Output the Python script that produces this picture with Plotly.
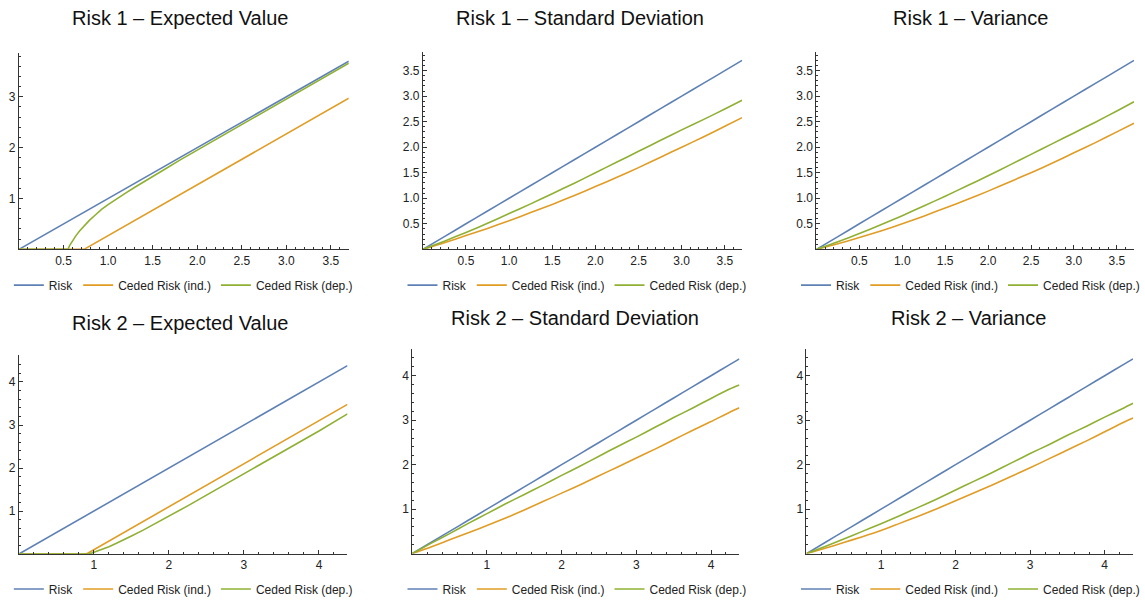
import plotly.graph_objects as go

W, H = 1145, 604

names = ["Risk", "Ceded Risk (ind.)", "Ceded Risk (dep.)"]
colors = ["#5E81B5", "#E19C24", "#8FB032"]

titles = ["Risk 1 \u2013 Expected Value", "Risk 1 \u2013 Standard Deviation", "Risk 1 \u2013 Variance",
          "Risk 2 \u2013 Expected Value", "Risk 2 \u2013 Standard Deviation", "Risk 2 \u2013 Variance"]

# ---- Risk 1 data ----
r1_x = [0, 0.25, 0.5, 0.75, 1.0, 1.25, 1.5, 1.75, 2.0, 2.25, 2.5, 2.75, 3.0, 3.25, 3.5, 3.7]
r1_risk = [0, 0.25, 0.5, 0.75, 1.0, 1.25, 1.5, 1.75, 2.0, 2.25, 2.5, 2.75, 3.0, 3.25, 3.5, 3.7]

r1_ev_ind_x = [0, 0.73, 3.7]
r1_ev_ind_y = [0, 0, 2.97]
r1_ev_dep_x = [0, 0.55, 0.57, 0.60, 0.64, 0.68, 0.73, 0.79, 0.86, 0.93, 1.0, 1.1, 1.2, 1.3, 1.4, 1.5, 1.65,
               1.8, 2.0, 2.3, 2.6, 3.0, 3.4, 3.7]
r1_ev_dep_y = [0, 0, 0.08, 0.17, 0.27, 0.36, 0.46, 0.57, 0.68, 0.79, 0.88, 1.00, 1.11, 1.22, 1.33, 1.43, 1.59,
               1.75, 1.95, 2.25, 2.55, 2.95, 3.36, 3.66]

r1_sd_ind = [0, 0.13, 0.27, 0.41, 0.56, 0.72, 0.88, 1.05, 1.23, 1.41, 1.60, 1.80, 2.00, 2.20, 2.41, 2.58]
r1_sd_dep = [0, 0.16, 0.33, 0.51, 0.70, 0.89, 1.09, 1.29, 1.50, 1.71, 1.92, 2.13, 2.34, 2.54, 2.75, 2.92]

r1_var_ind = [0, 0.11, 0.23, 0.36, 0.50, 0.65, 0.81, 0.97, 1.14, 1.32, 1.50, 1.69, 1.89, 2.09, 2.30, 2.47]
r1_var_dep = [0, 0.15, 0.31, 0.48, 0.66, 0.85, 1.04, 1.24, 1.44, 1.65, 1.86, 2.07, 2.28, 2.49, 2.71, 2.89]

# ---- Risk 2 data ----
r2_x = [0, 0.25, 0.5, 0.75, 1.0, 1.25, 1.5, 1.75, 2.0, 2.25, 2.5, 2.75, 3.0, 3.25, 3.5, 3.75, 4.0, 4.25, 4.38]
r2_risk = [0, 0.25, 0.5, 0.75, 1.0, 1.25, 1.5, 1.75, 2.0, 2.25, 2.5, 2.75, 3.0, 3.25, 3.5, 3.75, 4.0, 4.25, 4.38]

r2_ev_ind_x = [0, 0.9, 4.38]
r2_ev_ind_y = [0, 0, 3.48]
r2_ev_dep_x = [0, 0.93, 1.0, 1.1, 1.2, 1.3, 1.4, 1.5, 1.65, 1.8, 2.0, 2.25, 2.5, 3.0, 3.5, 4.0, 4.38]
r2_ev_dep_y = [0, 0, 0.04, 0.10, 0.17, 0.25, 0.33, 0.42, 0.55, 0.69, 0.88, 1.12, 1.37, 1.86, 2.36, 2.86, 3.26]

r2_sd_ind = [0, 0.15, 0.31, 0.47, 0.63, 0.80, 0.98, 1.17, 1.36, 1.55, 1.75, 1.95, 2.15, 2.35, 2.56, 2.77, 2.97, 3.18, 3.28]
r2_sd_dep = [0, 0.23, 0.45, 0.68, 0.90, 1.12, 1.33, 1.54, 1.76, 1.97, 2.19, 2.41, 2.62, 2.84, 3.06, 3.27, 3.49, 3.70, 3.79]

r2_var_ind = [0, 0.12, 0.25, 0.38, 0.52, 0.68, 0.84, 1.01, 1.19, 1.37, 1.55, 1.74, 1.93, 2.13, 2.33, 2.53, 2.74, 2.95, 3.05]
r2_var_dep = [0, 0.16, 0.33, 0.50, 0.67, 0.85, 1.04, 1.23, 1.43, 1.63, 1.83, 2.04, 2.25, 2.45, 2.66, 2.86, 3.07, 3.27, 3.38]

panels = [
    [(r1_x, r1_risk), (r1_ev_ind_x, r1_ev_ind_y), (r1_ev_dep_x, r1_ev_dep_y)],
    [(r1_x, r1_risk), (r1_x, r1_sd_ind), (r1_x, r1_sd_dep)],
    [(r1_x, r1_risk), (r1_x, r1_var_ind), (r1_x, r1_var_dep)],
    [(r2_x, r2_risk), (r2_ev_ind_x, r2_ev_ind_y), (r2_ev_dep_x, r2_ev_dep_y)],
    [(r2_x, r2_risk), (r2_x, r2_sd_ind), (r2_x, r2_sd_dep)],
    [(r2_x, r2_risk), (r2_x, r2_var_ind), (r2_x, r2_var_dep)],
]
smooth_panel = [False, True, True, False, True, True]

px_dom = [
    (19, 350, 251, 53.4),
    (424.3, 744.7, 251, 52.6),
    (819.3, 1138, 251, 52.6),
    (19, 348.7, 557.7, 357.7),
    (413.7, 742, 557.3, 351.4),
    (809.3, 1137, 557.3, 351.4),
]
yranges = [3.86, 3.86, 3.86, 4.62, 4.6, 4.6]
xranges = [3.7, 3.7, 3.7, 4.38, 4.38, 4.38]
xticks = [[0.5, 1.0, 1.5, 2.0, 2.5, 3.0, 3.5]] * 3 + [[1, 2, 3, 4]] * 3
yticks = [[1, 2, 3], [0.5, 1.0, 1.5, 2.0, 2.5, 3.0, 3.5], [0.5, 1.0, 1.5, 2.0, 2.5, 3.0, 3.5],
          [1, 2, 3, 4], [1, 2, 3, 4], [1, 2, 3, 4]]
xminor = [0.1, 0.1, 0.1, 0.2, 0.2, 0.2]
yminor = [0.2, 0.1, 0.1, 0.2, 0.2, 0.2]
title_pos = [(181, 18), (582, 18), (974, 18), (181, 325), (577, 320), (972, 320)]
legend_pos = [(184, 287), (579, 287), (974, 287), (184, 593), (579, 593), (974, 593)]

FONT = "Liberation Sans, Arial, sans-serif"
AX = "#333333"

fig = go.Figure()
layout = dict(
    width=W, height=H, margin=dict(l=0, r=0, t=0, b=0),
    paper_bgcolor="white", plot_bgcolor="white",
    font=dict(family=FONT, color="#222222"),
    annotations=[],
)

for i in range(6):
    sfx = "" if i == 0 else str(i + 1)
    for j, (xs, ys) in enumerate(panels[i]):
        if smooth_panel[i]:
            ln = dict(color=colors[j], width=1.6, shape="spline", smoothing=0.6)
        else:
            ln = dict(color=colors[j], width=1.6)
        fig.add_trace(go.Scatter(
            x=xs, y=ys, mode="lines", name=names[j], line=ln,
            xaxis="x" + sfx, yaxis="y" + sfx, legend="legend" + sfx,
            showlegend=True, hoverinfo="skip",
        ))
    xl, xr, yb, yt = px_dom[i]
    common = dict(showgrid=False, zeroline=False, showline=True, linecolor=AX, linewidth=1,
                  ticks="inside", ticklen=4, tickcolor=AX, tickwidth=1,
                  tickfont=dict(size=12, family=FONT, color="#222222"))
    layout["xaxis" + sfx] = dict(
        domain=[xl / W, xr / W], anchor="y" + sfx, range=[0, xranges[i]],
        tickmode="array", tickvals=xticks[i], ticktext=[str(v) for v in xticks[i]],
        minor=dict(tickmode="linear", tick0=0, dtick=xminor[i], ticks="inside", ticklen=2,
                   tickcolor=AX, showgrid=False),
        **common)
    layout["yaxis" + sfx] = dict(
        domain=[1 - yb / H, 1 - yt / H], anchor="x" + sfx, range=[0, yranges[i]],
        tickmode="array", tickvals=yticks[i], ticktext=[str(v) for v in yticks[i]],
        minor=dict(tickmode="linear", tick0=0, dtick=yminor[i], ticks="inside", ticklen=2,
                   tickcolor=AX, showgrid=False),
        **common)
    lx, ly = legend_pos[i]
    layout["legend" + sfx] = dict(
        orientation="h", x=lx / W, xanchor="center", y=1 - ly / H, yanchor="middle",
        font=dict(size=12, family=FONT, color="#222222"), itemwidth=30,
        bgcolor="rgba(0,0,0,0)", tracegroupgap=0,
    )
    tx, ty = title_pos[i]
    layout["annotations"].append(dict(
        text=titles[i], x=tx / W, y=1 - ty / H, xref="paper", yref="paper",
        xanchor="center", yanchor="middle", showarrow=False,
        font=dict(size=20, family=FONT, color="#111111"),
    ))

fig.update_layout(**layout)
fig.write_html("out.html", config={"displayModeBar": False},
               post_script="document.body.style.margin='0';document.body.style.overflow='hidden';")
